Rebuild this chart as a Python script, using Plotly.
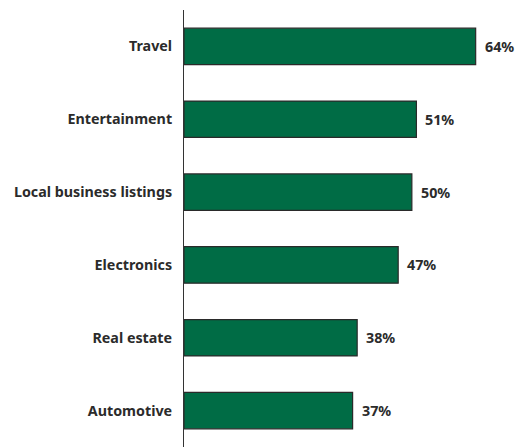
import plotly.graph_objects as go

# Share of respondents by category
categories = ["Travel", "Entertainment", "Local business listings",
              "Electronics", "Real estate", "Automotive"]
values = [64, 51, 50, 47, 38, 37]
value_labels = [f"{v}%" for v in values]

BAR_GREEN = "#006C45"
TEXT_DARK = "#2b2b2b"
FONT = "Noto Sans"
FONT_SIZE = 14.3

fig = go.Figure(
    go.Bar(
        x=values,
        y=categories,
        orientation="h",
        width=0.5,
        marker=dict(color=BAR_GREEN, line=dict(color="#2a2a2a", width=1.2)),
        hoverinfo="skip",
    )
)

# Value labels just past the end of each bar
for cat, v, lab in zip(categories, values, value_labels):
    fig.add_annotation(
        x=v, y=cat, text=f"<b>{lab}</b>", showarrow=False,
        xanchor="left", yanchor="middle", xshift=7,
        font=dict(family=FONT, size=FONT_SIZE, color=TEXT_DARK),
    )

fig.update_layout(
    width=516, height=447,
    margin=dict(l=184, r=13, t=10, b=0),
    paper_bgcolor="white", plot_bgcolor="white",
    showlegend=False,
    font=dict(family=FONT, size=FONT_SIZE, color=TEXT_DARK),
)
fig.update_xaxes(range=[0, 70], visible=False, showgrid=False, zeroline=False)
fig.update_yaxes(
    categoryorder="array", categoryarray=categories[::-1],
    range=[-0.5, 5.5],
    showgrid=False, zeroline=False,
    showline=True, linecolor="#333333", linewidth=1,
    ticks="", ticklabelstandoff=8,
    tickfont=dict(family=FONT, size=FONT_SIZE, color=TEXT_DARK, weight="bold"),
)

fig.write_html("out.html")
